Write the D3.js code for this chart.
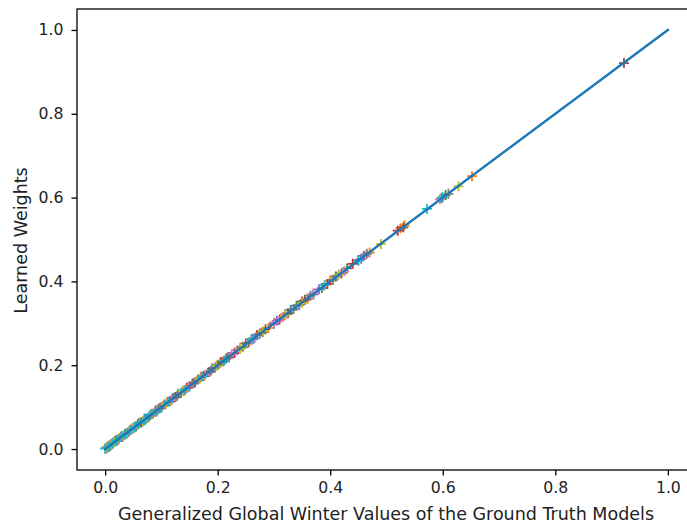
<!DOCTYPE html>
<html>
<head>
<meta charset="utf-8">
<script src="https://cdn.jsdelivr.net/npm/d3@7"></script>
<style>
  html, body { margin: 0; padding: 0; background: #fff; }
  svg { display: block; font-family: "DejaVu Sans", sans-serif; }
</style>
</head>
<body>
<svg id="chart" width="687" height="525"></svg>
<script>
// ---- data ----
const tickValues = [0.0, 0.2, 0.4, 0.6, 0.8, 1.0];
const xLabel = "Generalized Global Winter Values of the Ground Truth Models";
const yLabel = "Learned Weights";
const identityLine = [[0, 0], [1, 1]];

const seriesC0 = [[0.002,0.003],[0.008,0.007],[0.015,0.016],[0.03,0.031],[0.05,0.049],[0.07,0.072],[0.09,0.089],[0.12,0.121],[0.15,0.149],[0.19,0.192],[0.22,0.219],[0.26,0.262],[0.30,0.299],[0.33,0.332],[0.37,0.369],[0.41,0.412],[0.45,0.451]];
const seriesC1 = [[0.004,0.005],[0.012,0.011],[0.025,0.026],[0.04,0.039],[0.06,0.062],[0.085,0.084],[0.11,0.112],[0.14,0.139],[0.17,0.172],[0.21,0.209],[0.24,0.242],[0.29,0.289],[0.32,0.322],[0.36,0.359],[0.40,0.402],[0.47,0.469],[0.525,0.527],[0.532,0.534],[0.652,0.651]];
const seriesC2 = [[0.003,0.002],[0.01,0.011],[0.02,0.019],[0.035,0.036],[0.055,0.054],[0.08,0.081],[0.10,0.099],[0.13,0.132],[0.16,0.159],[0.20,0.201],[0.25,0.252],[0.28,0.279],[0.34,0.342],[0.385,0.384],[0.43,0.431],[0.598,0.599],[0.605,0.606]];
const seriesC3 = [[0.006,0.005],[0.018,0.019],[0.03,0.029],[0.045,0.046],[0.065,0.064],[0.09,0.092],[0.115,0.114],[0.145,0.146],[0.175,0.174],[0.205,0.207],[0.23,0.229],[0.27,0.272],[0.31,0.309],[0.35,0.352],[0.395,0.394],[0.44,0.442],[0.52,0.521]];
const seriesC4 = [[0.005,0.006],[0.014,0.013],[0.028,0.029],[0.042,0.041],[0.062,0.063],[0.078,0.077],[0.105,0.106],[0.135,0.134],[0.165,0.166],[0.195,0.194],[0.235,0.236],[0.265,0.264],[0.305,0.306],[0.345,0.344],[0.38,0.381],[0.455,0.454],[0.46,0.461]];
const seriesC5 = [[0.007,0.008],[0.02,0.021],[0.038,0.037],[0.058,0.059],[0.075,0.074],[0.095,0.096],[0.125,0.124],[0.155,0.156],[0.185,0.184],[0.215,0.216],[0.255,0.254],[0.285,0.286],[0.325,0.324],[0.355,0.356],[0.42,0.419],[0.53,0.529],[0.922,0.921]];
const seriesC6 = [[0.001,0.002],[0.011,0.012],[0.024,0.023],[0.048,0.049],[0.068,0.067],[0.088,0.089],[0.118,0.117],[0.148,0.149],[0.178,0.177],[0.225,0.226],[0.26,0.259],[0.30,0.302],[0.315,0.314],[0.37,0.371],[0.425,0.424],[0.595,0.596]];
const seriesC7 = [[0.009,0.008],[0.022,0.023],[0.034,0.033],[0.052,0.053],[0.072,0.071],[0.098,0.099],[0.128,0.127],[0.158,0.159],[0.188,0.187],[0.218,0.219],[0.245,0.244],[0.275,0.276],[0.335,0.334],[0.365,0.366],[0.405,0.404],[0.465,0.466],[0.61,0.609]];
const seriesC8 = [[0.004,0.003],[0.016,0.017],[0.032,0.031],[0.05,0.051],[0.067,0.066],[0.083,0.084],[0.108,0.107],[0.138,0.139],[0.168,0.167],[0.198,0.199],[0.24,0.239],[0.28,0.281],[0.32,0.319],[0.35,0.349],[0.415,0.416],[0.49,0.489],[0.628,0.627]];
const seriesC9 = [[0.0,0.001],[0.006,0.005],[0.013,0.014],[0.021,0.02],[0.029,0.03],[0.037,0.036],[0.044,0.045],[0.053,0.052],[0.061,0.062],[0.07,0.069],[0.082,0.083],[0.093,0.092],[0.112,0.113],[0.142,0.141],[0.172,0.173],[0.212,0.211],[0.262,0.263],[0.39,0.391],[0.45,0.449],[0.572,0.573],[0.60,0.601]];

const allSeries = [seriesC0, seriesC1, seriesC2, seriesC3, seriesC4, seriesC5, seriesC6, seriesC7, seriesC8, seriesC9];
const colors = ["#1f77b4","#ff7f0e","#2ca02c","#d62728","#9467bd","#8c564b","#e377c2","#7f7f7f","#bcbd22","#17becf"];

// ---- layout ----
const svg = d3.select("#chart");
const mLeft = 77, mRight = 696, mTop = 9, mBottom = 470;
const x = d3.scaleLinear().domain([-0.05, 1.05]).range([mLeft, mRight]);
const y = d3.scaleLinear().domain([-0.05, 1.05]).range([mBottom, mTop]);
const tickFs = 15.7, labelFs = 17.5;

// scatter markers '+'
const ms = 5;
allSeries.forEach((s, i) => {
  const g = svg.append("g").attr("stroke", colors[i]).attr("stroke-width", 1.8);
  g.selectAll("path").data(s).enter().append("path")
    .attr("d", d => {
      const cx = x(d[0]), cy = y(d[1]);
      return `M${cx - ms},${cy}H${cx + ms}M${cx},${cy - ms}V${cy + ms}`;
    });
});

// identity line
svg.append("path")
  .datum(identityLine)
  .attr("fill", "none")
  .attr("stroke", "#1f77b4")
  .attr("stroke-width", 2.4)
  .attr("stroke-linecap", "square")
  .attr("d", d3.line().x(d => x(d[0])).y(d => y(d[1])));

// axes
const xAxis = d3.axisBottom(x).tickValues(tickValues).tickFormat(d3.format(".1f"))
  .tickSize(5.5).tickPadding(6.5);
const yAxis = d3.axisLeft(y).tickValues(tickValues).tickFormat(d3.format(".1f"))
  .tickSize(5.5).tickPadding(8);

const gx = svg.append("g").attr("transform", `translate(0,${mBottom})`).call(xAxis);
const gy = svg.append("g").attr("transform", `translate(${mLeft},0)`).call(yAxis);
[gx, gy].forEach(g => {
  g.select(".domain").remove();
  g.selectAll(".tick line").attr("stroke", "#000").attr("stroke-width", 1.3);
  g.selectAll(".tick text").attr("fill", "#222").style("font-size", tickFs + "px")
    .style("font-family", "DejaVu Sans, sans-serif");
});

// frame
svg.append("rect")
  .attr("x", mLeft).attr("y", mTop)
  .attr("width", mRight - mLeft).attr("height", mBottom - mTop)
  .attr("fill", "none").attr("stroke", "#000").attr("stroke-width", 1.3);

// labels
svg.append("text")
  .attr("x", (mLeft + mRight) / 2 - 0.5).attr("y", 519.5)
  .attr("text-anchor", "middle")
  .attr("fill", "#222")
  .style("font-size", labelFs + "px")
  .text(xLabel);

svg.append("text")
  .attr("transform", `translate(26.5,${(mTop + mBottom) / 2 + 1}) rotate(-90)`)
  .attr("text-anchor", "middle")
  .attr("fill", "#222")
  .style("font-size", labelFs + "px")
  .text(yLabel);
</script>
</body>
</html>
